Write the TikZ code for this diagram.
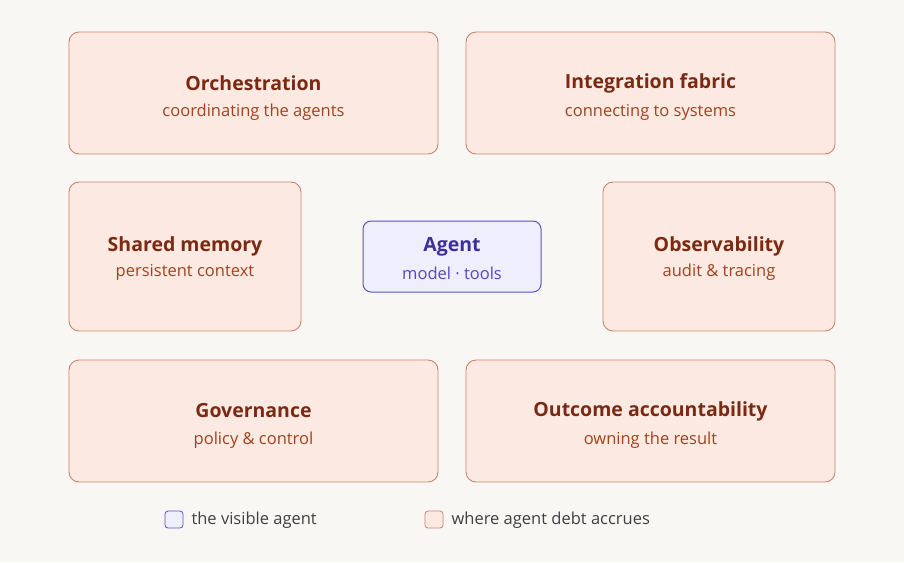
\documentclass[tikz,border=0pt]{standalone}
\usepackage{fontspec}
\setmainfont{Open Sans}
\definecolor{bg}{HTML}{F8F7F4}
\definecolor{dfill}{HTML}{FCEAE2}
\definecolor{dline}{HTML}{C98470}
\definecolor{dtitle}{HTML}{7A2A12}
\definecolor{dsub}{HTML}{A2411C}
\definecolor{afill}{HTML}{EEEEFC}
\definecolor{aline}{HTML}{5B52C8}
\definecolor{atitle}{HTML}{3C2F9A}
\definecolor{asub}{HTML}{5548C0}
\begin{document}
\begin{tikzpicture}[x=1pt,y=-1pt,
 debt/.style={draw=dline,fill=dfill,rounded corners=10pt,line width=0.9pt},
 ag/.style={draw=aline,fill=afill,rounded corners=8pt,line width=1pt},
 tt/.style={font=\fontsize{19.5}{22}\selectfont\bfseries\color{dtitle}},
 st/.style={font=\fontsize{16.5}{19}\selectfont\color{dsub}},
 lg/.style={font=\fontsize{16.5}{19}\selectfont\color{black!75},anchor=west}]
\fill[bg] (0,0) rectangle (904,562);
\useasboundingbox (0,0) rectangle (904,562);
\newcommand\dbox[6]{%
 \draw[debt] (#1,#2) rectangle (#3,#4);
 \node[tt] (#5t) at ({(#1+#3)/2},{(#2+#4)/2-10}) {#6};}
\dbox{69}{32}{438}{154}{orch}{Orchestration}
\node[st] (orchs) at (253.5,112) {coordinating the agents};
\dbox{466}{32}{835}{154}{integ}{Integration fabric}
\node[st] (integs) at (650.5,112) {connecting to systems};
\dbox{69}{182}{301}{331}{mem}{Shared memory}
\node[st] (mems) at (185,272) {persistent context};
\dbox{603}{182}{835}{331}{obs}{Observability}
\node[st] (obss) at (719,272) {audit \& tracing};
\dbox{69}{360}{438}{482}{gov}{Governance}
\node[st] (govs) at (253.5,440) {policy \& control};
\dbox{466}{360}{835}{482}{out}{Outcome accountability}
\node[st] (outs) at (650.5,440) {owning the result};
\draw[ag] (363,221) rectangle (541,292);
\node[tt,text=atitle] (agt) at (452,247) {Agent};
\node[st,text=asub] (ags) at (452,273) {model · tools};
\draw[ag,rounded corners=3pt,line width=0.8pt] (165,511) rectangle (183,528);
\node[lg] (l1) at (188,520) {the visible agent};
\draw[debt,rounded corners=3pt,line width=0.8pt] (425,511) rectangle (443,528);
\node[lg] (l2) at (448,520) {where agent debt accrues};
\end{tikzpicture}
\end{document}
